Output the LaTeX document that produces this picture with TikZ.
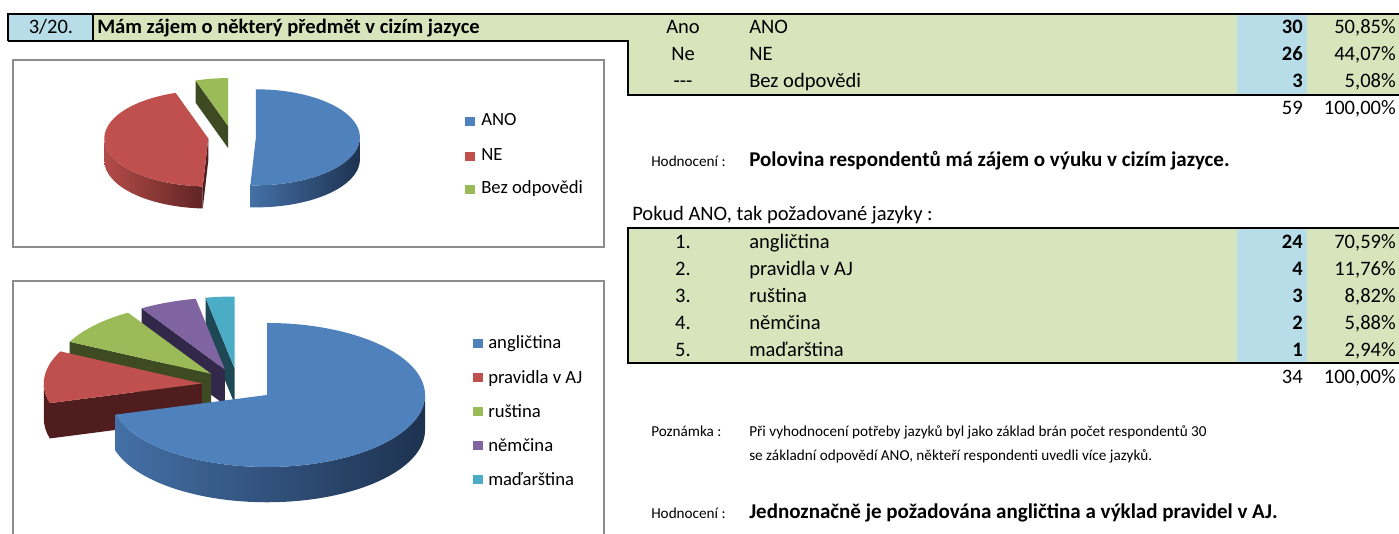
\documentclass[tikz,border=0pt]{standalone}
\usepackage{fontspec}
\setmainfont{Carlito}
\definecolor{cellgreen}{HTML}{D8E4BC}
\definecolor{cellblue}{HTML}{B7DEE8}
\definecolor{boxgray}{HTML}{8C8C8C}
\definecolor{sblue}{HTML}{4F81BD}
\definecolor{sbluelight}{HTML}{4470A6}
\definecolor{sbluedark}{HTML}{1E3250}
\definecolor{sred}{HTML}{C0504D}
\definecolor{sredlight}{HTML}{B34C49}
\definecolor{sreddark}{HTML}{4F1D1D}
\definecolor{sgreen}{HTML}{9BBB59}
\definecolor{sgreendark}{HTML}{3D4A22}
\definecolor{spurple}{HTML}{8064A2}
\definecolor{spurpledark}{HTML}{31284A}
\definecolor{scyan}{HTML}{4BACC6}
\definecolor{scyandark}{HTML}{1E4854}

% one 3d pie slice, drawn in a scope whose x/y are the ellipse radii
\newcommand{\slicetop}[3]{\fill[#3] (0,0) -- (#1:1) arc[start angle=#1, end angle=#2, radius=1] -- cycle;}
\newcommand{\sliceface}[3]{\fill[#3] (0,0) -- (#1:1) -- ++(0,-#2) -- (0,-#2) -- cycle;}
\newcommand{\slicewall}[5]{\shade[left color=#4, right color=#5] (#1:1) arc[start angle=#1, end angle=#2, radius=1] -- ++(0,-#3) arc[start angle=#2, end angle=#1, radius=1] -- cycle;}

\tikzset{
  txt/.style={inner sep=0pt, anchor=base west, font=\fontsize{15.4}{18}\selectfont},
  num/.style={txt, anchor=base east, font=\fontsize{15.4}{18}\selectfont\bfseries},
  pct/.style={txt, anchor=base east},
  evaltxt/.style={txt, font=\fontsize{15.75}{18}\selectfont\bfseries},
  small/.style={inner sep=0pt, anchor=base west, font=\fontsize{11.4}{13}\selectfont},
  legend/.style={inner sep=0pt, anchor=base west, font=\fontsize{14}{16}\selectfont},
  rule/.style={black, line width=1.5pt},
  chartbox/.style={boxgray, line width=1pt}
}

\begin{document}
\begin{tikzpicture}[x=0.75pt, y=-0.75pt]
\useasboundingbox (0,0) rectangle (1399,534);

% upper table
\fill[cellgreen] (93,14) -- (1399,14) -- (1399,95) -- (628,95) -- (628,41) -- (93,41) -- cycle;
\fill[cellblue] (8,14) rectangle (93,41);
\fill[cellblue] (1237,14) rectangle (1307,95);
\draw[rule] (8,41) -- (8,14) -- (1399,14);
\draw[black, line width=1pt] (93,14) -- (93,41);
\draw[rule] (8,41) -- (628,41) -- (628,95) -- (1399,95);

\node[txt, anchor=base] (qno) at (51,34) {3/20.};
\node[txt, font=\fontsize{15.4}{18}\selectfont\bfseries] (qtitle) at (97,34) {Mám zájem o některý předmět v cizím jazyce};

\node[txt, anchor=base] (ano-code) at (683,34) {Ano};
\node[txt] (ano-label) at (749,34) {ANO};
\node[num] (ano-count) at (1303,34) {30};
\node[pct] (ano-pct) at (1396,34) {50,85\%};

\node[txt, anchor=base] (ne-code) at (683,61) {Ne};
\node[txt] (ne-label) at (749,61) {NE};
\node[num] (ne-count) at (1303,61) {26};
\node[pct] (ne-pct) at (1396,61) {44,07\%};

\node[txt, anchor=base] (bez-code) at (683,88) {-{}-{}-};
\node[txt] (bez-label) at (749,88) {Bez odpovědi};
\node[num] (bez-count) at (1303,88) {3};
\node[pct] (bez-pct) at (1396,88) {5,08\%};

\node[pct] (sum1-count) at (1303,115) {59};
\node[pct] (sum1-pct) at (1396,115) {100,00\%};

\node[small] (eval1-head) at (651,167) {Hodnocení :};
\node[evaltxt] (eval1) at (749,167) {Polovina respondentů má zájem o výuku v cizím jazyce.};

% lower table
\node[txt] (lang-head) at (632,221) {Pokud ANO, tak požadované jazyky :};
\fill[cellgreen] (628,228) rectangle (1399,363);
\fill[cellblue] (1237,228) rectangle (1307,363);
\draw[rule] (1399,228) -- (628,228) -- (628,363) -- (1399,363);

\node[txt, anchor=base] (aj-no) at (683,249) {1.};
\node[txt] (aj-label) at (749,249) {angličtina};
\node[num] (aj-count) at (1303,249) {24};
\node[pct] (aj-pct) at (1396,249) {70,59\%};

\node[txt, anchor=base] (prav-no) at (683,276) {2.};
\node[txt] (prav-label) at (749,276) {pravidla v AJ};
\node[num] (prav-count) at (1303,276) {4};
\node[pct] (prav-pct) at (1396,276) {11,76\%};

\node[txt, anchor=base] (rus-no) at (683,303) {3.};
\node[txt] (rus-label) at (749,303) {ruština};
\node[num] (rus-count) at (1303,303) {3};
\node[pct] (rus-pct) at (1396,303) {8,82\%};

\node[txt, anchor=base] (nem-no) at (683,330) {4.};
\node[txt] (nem-label) at (749,330) {němčina};
\node[num] (nem-count) at (1303,330) {2};
\node[pct] (nem-pct) at (1396,330) {5,88\%};

\node[txt, anchor=base] (mad-no) at (683,357) {5.};
\node[txt] (mad-label) at (749,357) {maďarština};
\node[num] (mad-count) at (1303,357) {1};
\node[pct] (mad-pct) at (1396,357) {2,94\%};

\node[pct] (sum2-count) at (1303,384) {34};
\node[pct] (sum2-pct) at (1396,384) {100,00\%};

\node[small] (note-head) at (651,436) {Poznámka :};
\node[small] (note1) at (749,436) {Při vyhodnocení potřeby jazyků byl jako základ brán počet respondentů 30};
\node[small] (note2) at (749,460) {se základní odpovědí ANO, někteří respondenti uvedli více jazyků.};

\node[small] (eval2-head) at (651,518) {Hodnocení :};
\node[evaltxt] (eval2) at (749,518) {Jednoznačně je požadována angličtina a výklad pravidel v AJ.};

% chart 1
\draw[chartbox] (13,60) rectangle (604,247);
\begin{scope}[shift={(232,137)}, x=78pt, y=36pt]
  \begin{scope}[shift={(99.15:0.23)}]% Bez odpovedi
    \sliceface{108.29}{0.46}{sgreendark}
    \slicetop{90}{108.29}{sgreen}
  \end{scope}
  \begin{scope}[shift={(187.6:0.23)}]% NE
    \slicewall{180}{266.94}{0.46}{sredlight}{sreddark!85!sred}
    \sliceface{266.94}{0.46}{sreddark}
    \slicetop{108.29}{266.94}{sred}
  \end{scope}
  \begin{scope}[shift={(-1.53:0.23)}]% ANO
    \slicewall{266.94}{360}{0.46}{sbluelight}{sbluedark}
    \slicetop{-93.06}{90}{sblue}
  \end{scope}
\end{scope}
\fill[sblue] (465,117) rectangle (475,126);
\node[legend] (leg-ano) at (481,126) {ANO};
\fill[sred] (465,152) rectangle (475,161);
\node[legend] (leg-ne) at (481,161) {NE};
\fill[sgreen] (465,185) rectangle (475,194);
\node[legend] (leg-bez) at (481,194) {Bez odpovědi};

% chart 2
\draw[chartbox] (13,540) -- (13,281) -- (604,281) -- (604,540);
\begin{scope}[shift={(238,385)}, x=118.5pt, y=54pt]
  \begin{scope}[shift={(95.31:0.23)}]% madarstina
    \sliceface{100.62}{0.49}{scyandark}
    \slicetop{90}{100.62}{scyan}
  \end{scope}
  \begin{scope}[shift={(111.2:0.23)}]% nemcina
    \sliceface{121.79}{0.49}{spurpledark}
    \slicetop{100.62}{121.79}{spurple}
  \end{scope}
  \begin{scope}[shift={(137.66:0.23)}]% rustina
    \sliceface{153.54}{0.49}{sgreendark}
    \slicetop{121.79}{153.54}{sgreen}
  \end{scope}
  \begin{scope}[shift={(174.71:0.23)}]% pravidla v AJ
    \slicewall{180}{195.88}{0.49}{sreddark}{sreddark}
    \sliceface{195.88}{0.49}{sreddark}
    \slicetop{153.54}{195.88}{sred}
  \end{scope}
  \begin{scope}[shift={(-37.06:0.23)}]% anglictina
    \slicewall{195.88}{360}{0.49}{sbluelight}{sbluedark}
    \slicetop{-164.12}{90}{sblue}
  \end{scope}
\end{scope}
\fill[sblue] (473,339) rectangle (483,348);
\node[legend] (leg-aj) at (488,349) {angličtina};
\fill[sred] (473,373) rectangle (483,382);
\node[legend] (leg-prav) at (488,383) {pravidla v AJ};
\fill[sgreen] (473,407) rectangle (483,416);
\node[legend] (leg-rus) at (488,417) {ruština};
\fill[spurple] (473,441) rectangle (483,450);
\node[legend] (leg-nem) at (488,451) {němčina};
\fill[scyan] (473,475) rectangle (483,484);
\node[legend] (leg-mad) at (488,485) {maďarština};
\end{tikzpicture}
\end{document}
